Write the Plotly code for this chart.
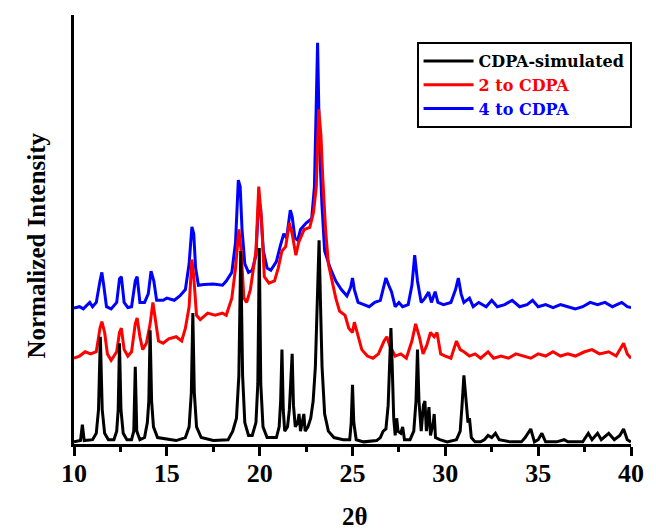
import plotly.graph_objects as go

# ---- data ----
black_x = [10.0, 10.35, 10.45, 10.55, 11.0, 11.2, 11.32, 11.42, 11.52, 11.65, 11.85,
           12.15, 12.3, 12.38, 12.45, 12.53, 12.65, 12.85, 13.1, 13.22, 13.3, 13.38, 13.55,
           13.8, 13.95, 14.03, 14.1, 14.18, 14.28, 14.5, 15.5, 16.0, 16.2, 16.32, 16.4, 16.48,
           16.6, 16.85, 17.5, 18.3, 18.55, 18.75, 18.88, 18.98, 19.08, 19.2, 19.4, 19.6, 19.8,
           19.9, 19.98, 20.06, 20.18, 20.4, 20.9, 21.05, 21.13, 21.2, 21.27, 21.35, 21.5, 21.6,
           21.68, 21.75, 21.82, 21.92, 22.05, 22.12, 22.2, 22.3, 22.38, 22.45, 22.6, 22.75,
           22.88, 23.0, 23.08, 23.2, 23.28, 23.36, 23.5, 23.7, 24.0, 24.5, 24.85, 24.93, 25.0,
           25.07, 25.2, 25.6, 26.3, 26.5, 26.65, 26.8, 26.92, 27.0, 27.07, 27.14, 27.22, 27.3,
           27.38, 27.45, 27.6, 27.7, 27.8, 28.1, 28.3, 28.42, 28.5, 28.58, 28.7, 28.82, 28.9,
           28.98, 29.07, 29.12, 29.2, 29.35, 29.4, 29.47, 29.7, 30.1, 30.6, 30.8, 30.9, 31.0,
           31.08, 31.15, 31.22, 31.3, 31.4, 31.6, 31.9, 32.1, 32.3, 32.5, 32.7, 32.9, 33.5,
           34.1, 34.3, 34.6, 34.8, 35.0, 35.2, 35.4, 36.0, 36.4, 36.6, 37.4, 37.7, 37.9, 38.2,
           38.4, 38.8, 39.1, 39.4, 39.6, 39.8, 40.0]
black_y = [0.5, 0.8, 4.5, 0.8, 1.0, 2.5, 8.0, 25.0, 8.0, 2.5, 1.0,
           1.0, 3.0, 8.0, 23.5, 8.0, 2.5, 1.0, 1.0, 3.0, 18.0, 3.0, 1.0,
           1.5, 5.0, 10.0, 26.5, 10.0, 4.0, 1.5, 0.8, 1.5, 4.0, 12.0, 30.5, 12.0,
           4.0, 1.5, 0.8, 1.0, 3.0, 6.0, 16.0, 45.0, 16.0, 5.0, 2.0, 2.0, 5.0,
           14.0, 45.7, 14.0, 4.0, 1.5, 1.5, 4.0, 10.0, 22.0, 8.0, 3.0, 4.0, 8.0,
           15.0, 21.0, 9.0, 4.0, 5.0, 7.0, 3.0, 5.0, 7.0, 3.0, 4.0, 6.0,
           10.0, 18.0, 31.0, 47.5, 32.0, 18.0, 7.0, 3.0, 1.5, 1.0, 1.0, 5.0, 13.8,
           5.0, 1.0, 0.5, 0.8, 1.5, 3.0, 3.5, 9.0, 18.0, 27.0, 18.0, 6.0, 2.0,
           6.0, 3.0, 2.5, 4.0, 1.0, 1.0, 3.0, 10.0, 22.0, 10.0, 3.0, 9.0, 10.0,
           3.0, 6.0, 8.6, 2.0, 5.0, 7.0, 1.5, 1.0, 0.5, 1.0, 3.0, 9.0, 16.0,
           12.0, 8.0, 5.0, 6.0, 1.5, 0.5, 0.5, 1.0, 2.0, 1.5, 2.5, 1.0, 0.5,
           0.5, 1.5, 3.5, 0.5, 1.0, 2.5, 0.5, 0.5, 1.0, 0.5, 0.5, 2.5, 1.0, 2.5,
           1.0, 2.5, 1.0, 2.0, 3.5, 1.0, 0.5]

red_x = [10.0, 10.3, 10.6, 10.9, 11.2, 11.4, 11.5, 11.65, 11.8, 12.0, 12.3, 12.45, 12.55, 12.7,
         12.9, 13.1, 13.3, 13.4, 13.55, 13.7, 13.9, 14.1, 14.25, 14.4, 14.55, 14.8, 15.1, 15.5,
         15.8, 16.0, 16.2, 16.35, 16.45, 16.6, 16.8, 17.2, 17.6, 18.0, 18.2, 18.5, 18.7, 18.88,
         19.0, 19.15, 19.3, 19.5, 19.8, 19.95, 20.1, 20.25, 20.5, 20.8, 21.0, 21.2, 21.4, 21.6,
         21.75, 21.95, 22.1, 22.4, 22.7, 22.9, 23.05, 23.18, 23.3, 23.4, 23.55, 23.7, 23.9, 24.1,
         24.3, 24.6, 24.8, 25.0, 25.1, 25.3, 25.5, 25.8, 26.1, 26.4, 26.7, 26.85, 27.0, 27.3,
         27.6, 27.9, 28.2, 28.4, 28.6, 28.8, 29.0, 29.2, 29.4, 29.55, 29.75, 30.0, 30.3, 30.6,
         30.8, 31.0, 31.3, 31.6, 31.9, 32.3, 32.6, 33.0, 33.4, 33.8, 34.2, 34.6, 35.0, 35.4,
         35.8, 36.2, 36.6, 37.0, 37.5, 37.9, 38.3, 38.8, 39.2, 39.6, 39.8, 40.0]
red_y = [20.0, 20.5, 21.5, 21.0, 21.5, 27.0, 28.5, 26.0, 21.0, 19.5, 21.5, 26.0, 27.0, 22.0,
         20.5, 21.5, 28.0, 29.4, 25.0, 22.0, 23.5, 28.0, 33.0, 29.0, 24.0, 23.5, 24.5, 25.0,
         24.0, 27.0, 32.0, 43.0, 39.0, 30.0, 29.0, 30.5, 30.0, 30.5, 30.0, 34.0, 41.0, 50.0,
         45.0, 34.0, 33.0, 36.0, 45.0, 60.0, 52.0, 39.0, 37.5, 38.0, 41.0, 45.0, 46.0, 51.5,
         49.0, 44.0, 47.0, 50.0, 50.5, 54.0, 60.0, 78.0, 72.0, 62.0, 50.0, 42.0, 38.0, 34.0,
         31.0, 30.0, 27.0, 26.0, 28.4, 25.0, 22.0, 20.5, 20.0, 21.0, 24.0, 25.0, 23.0, 20.5,
         21.0, 20.0, 24.0, 28.0, 25.0, 21.0, 23.0, 26.0, 25.0, 26.0, 21.0, 20.5, 20.0, 24.0,
         22.0, 21.5, 20.5, 21.0, 20.0, 21.5, 20.0, 20.5, 20.0, 21.0, 20.5, 20.0, 21.0, 20.5,
         21.5, 20.5, 21.0, 20.5, 21.5, 22.0, 21.0, 21.5, 20.5, 23.5, 21.0, 20.0]

blue_x = [10.0, 10.3, 10.5, 10.7, 10.85, 11.0, 11.2, 11.4, 11.5, 11.6, 11.75, 12.0, 12.3, 12.45,
          12.55, 12.7, 12.9, 13.1, 13.3, 13.4, 13.55, 13.8, 14.0, 14.15, 14.3, 14.45, 14.8, 15.0,
          15.4, 15.7, 16.0, 16.2, 16.35, 16.45, 16.55, 16.7, 17.0, 17.5, 18.0, 18.2, 18.5, 18.7,
          18.85, 18.95, 19.05, 19.2, 19.4, 19.6, 19.8, 19.95, 20.05, 20.2, 20.4, 20.6, 20.9, 21.1,
          21.3, 21.45, 21.65, 21.75, 21.9, 22.05, 22.2, 22.5, 22.8, 22.95, 23.05, 23.12, 23.22,
          23.35, 23.5, 23.8, 24.1, 24.4, 24.7, 24.9, 25.0, 25.1, 25.3, 25.6, 25.9, 26.2, 26.5,
          26.7, 26.8, 26.95, 27.1, 27.3, 27.5, 27.7, 28.0, 28.2, 28.35, 28.5, 28.7, 28.9, 29.1,
          29.25, 29.45, 29.6, 29.9, 30.3, 30.55, 30.7, 30.85, 31.0, 31.3, 31.5, 31.8, 32.2, 32.5,
          32.8, 33.2, 33.6, 34.0, 34.4, 34.7, 35.0, 35.4, 35.8, 36.2, 36.6, 37.0, 37.4, 37.8,
          38.2, 38.6, 39.0, 39.5, 39.8, 40.0]
blue_y = [31.7, 32.0, 31.5, 32.5, 33.0, 32.0, 33.0, 38.0, 40.0, 37.0, 32.0, 31.5, 33.0, 38.5,
          39.0, 33.0, 31.8, 32.0, 38.0, 39.0, 33.0, 33.0, 35.0, 40.3, 38.0, 33.5, 33.5, 34.0,
          33.5, 34.5, 36.0, 42.0, 50.6, 49.0, 41.0, 37.0, 37.2, 37.3, 37.0, 38.0, 40.0, 47.0,
          61.5, 60.0, 50.0, 42.0, 40.0, 40.5, 44.0, 57.0, 55.0, 45.0, 41.0, 40.5, 42.5, 46.0,
          49.0, 48.0, 54.5, 53.0, 48.0, 47.5, 50.0, 51.5, 52.5, 60.0, 85.0, 93.5, 70.0,
          56.0, 45.0, 41.0, 38.0, 36.0, 34.5, 36.5, 38.7, 36.0, 33.0, 32.5, 32.0, 33.0, 33.5,
          37.0, 38.7, 37.0, 35.5, 32.0, 33.0, 32.0, 32.5, 37.0, 44.0, 38.0, 33.0, 34.0, 35.4,
          33.0, 35.5, 33.0, 32.5, 33.0, 36.0, 38.7, 35.0, 33.0, 34.0, 32.0, 33.0, 32.0, 33.5,
          32.0, 32.5, 33.5, 32.0, 32.5, 33.5, 32.0, 32.5, 31.8, 32.5, 32.0, 31.5, 32.0, 33.0,
          32.5, 33.0, 32.0, 33.0, 32.0, 31.8]

x_ticks = [10, 15, 20, 25, 30, 35, 40]
series_names = ["CDPA-simulated", "2 to CDPA", "4 to CDPA"]
series_colors = ["#000000", "#ff0000", "#0000ff"]

FONT = "Liberation Serif"
LEGEND_FONT = "DejaVu Serif"

fig = go.Figure()
fig.add_trace(go.Scatter(x=blue_x, y=blue_y, mode="lines",
                         line=dict(color=series_colors[2], width=3),
                         name=f"<span style='color:{series_colors[2]}'>{series_names[2]}</span>",
                         legendrank=3))
fig.add_trace(go.Scatter(x=red_x, y=red_y, mode="lines",
                         line=dict(color=series_colors[1], width=3),
                         name=f"<span style='color:{series_colors[1]}'>{series_names[1]}</span>",
                         legendrank=2))
fig.add_trace(go.Scatter(x=black_x, y=black_y, mode="lines",
                         line=dict(color=series_colors[0], width=3),
                         name=f"<span style='color:{series_colors[0]}'>{series_names[0]}</span>",
                         legendrank=1))

fig.update_layout(
    width=656, height=529,
    margin=dict(l=74, r=16, t=15, b=85),
    paper_bgcolor="white", plot_bgcolor="white",
    font=dict(family=FONT, color="black"),
    showlegend=True,
    legend=dict(x=0.615, y=0.937, xanchor="left", yanchor="top",
                bordercolor="black", borderwidth=2, bgcolor="white",
                font=dict(family=LEGEND_FONT, size=16, weight="bold"),
                itemwidth=50, tracegroupgap=0),
    xaxis=dict(range=[10, 40], tickvals=x_ticks, ticktext=[str(t) for t in x_ticks],
               showline=True, linecolor="black", linewidth=3, mirror=False,
               ticks="outside", ticklen=9, tickwidth=3, tickcolor="black",
               ticklabelstandoff=-5,
               minor=dict(dtick=2.5, ticks="outside", ticklen=5, tickwidth=3, tickcolor="black"),
               showgrid=False, zeroline=False,
               tickfont=dict(family=FONT, size=26, weight="bold", color="black")),
    yaxis=dict(range=[0, 100], showline=True, linecolor="black", linewidth=3,
               showticklabels=False, ticks="", showgrid=False, zeroline=False),
    annotations=[
        dict(text="<b>Normalized Intensity</b>", xref="paper", yref="paper",
             x=-0.069, y=0.4615, xanchor="center", yanchor="middle",
             textangle=-90, showarrow=False,
             font=dict(family=FONT, size=25, color="black")),
        dict(text="<b>2θ</b>", xref="paper", yref="paper",
             x=0.504, y=-0.168, xanchor="center", yanchor="middle", showarrow=False,
             font=dict(family=FONT, size=25, color="black")),
    ],
)

fig.write_html("out.html")
